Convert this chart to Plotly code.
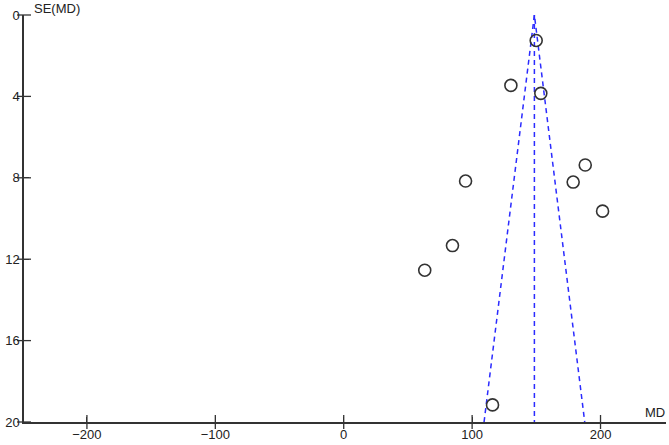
import plotly.graph_objects as go

# Study data
md_values = [149.9, 130.2, 153.5, 188.1, 94.9, 178.7, 201.6, 84.7, 63.1, 115.9]
se_values = [1.25, 3.46, 3.85, 7.37, 8.16, 8.21, 9.64, 11.33, 12.54, 19.16]
pooled_md = 148.5
se_limits = [0, 20]
x_ticks = [-200, -100, 0, 100, 200]
y_ticks = [0, 4, 8, 12, 16, 20]

font_family = "Liberation Sans, Arial, sans-serif"
text_color = "#222222"
axis_color = "#333333"
line_blue = "#2b2bff"
x_range = [-249, 251]
y_range = [20, 0]

fig = go.Figure()

# Funnel: 95% pseudo-confidence limits
fig.add_trace(go.Scatter(
    x=[pooled_md - 1.96 * se_limits[1], pooled_md, pooled_md + 1.96 * se_limits[1]],
    y=[se_limits[1], se_limits[0], se_limits[1]],
    mode="lines", line=dict(color=line_blue, width=1.5, dash="5px,4px"),
    hoverinfo="skip", showlegend=False))
# Centre line
fig.add_trace(go.Scatter(
    x=[pooled_md, pooled_md], y=se_limits,
    mode="lines", line=dict(color=line_blue, width=1.5, dash="5px,4px"),
    hoverinfo="skip", showlegend=False))
# Studies
fig.add_trace(go.Scatter(
    x=md_values, y=se_values, mode="markers",
    marker=dict(symbol="circle-open", size=12, color="#333333",
                line=dict(width=1.6, color="#333333")),
    showlegend=False))

# Crossing tick marks, placed on the axis lines at the tick values
fig.add_trace(go.Scatter(
    x=x_ticks, y=[y_range[0]] * len(x_ticks), mode="markers", cliponaxis=False,
    marker=dict(symbol="line-ns-open", size=10, color=axis_color,
                line=dict(width=1.3, color=axis_color)),
    hoverinfo="skip", showlegend=False))
fig.add_trace(go.Scatter(
    x=[x_range[0]] * len(y_ticks), y=y_ticks, mode="markers", cliponaxis=False,
    marker=dict(symbol="line-ew-open", size=10, color=axis_color,
                line=dict(width=1.3, color=axis_color)),
    hoverinfo="skip", showlegend=False))

tick_font = dict(family=font_family, size=13, color=text_color)

fig.update_layout(
    width=669, height=445,
    margin=dict(l=24, r=3, t=15, b=20),
    paper_bgcolor="white", plot_bgcolor="white",
    xaxis=dict(range=x_range, tickvals=x_ticks, ticks="inside", ticklen=5,
               tickcolor=axis_color, tickwidth=1.2, showline=True,
               linecolor=axis_color, linewidth=1.5, showgrid=False, zeroline=False,
               tickfont=tick_font),
    yaxis=dict(range=y_range, tickvals=y_ticks, ticks="inside", ticklen=5,
               tickcolor=axis_color, tickwidth=1.2, showline=True,
               linecolor=axis_color, linewidth=1.5, showgrid=False, zeroline=False,
               tickfont=tick_font),
    annotations=[
        dict(text="SE(MD)", xref="paper", yref="paper", x=0.012, y=1.0, xanchor="left",
             yanchor="middle", yshift=7, showarrow=False,
             font=dict(family=font_family, size=13, color=text_color)),
        dict(text="MD", xref="paper", yref="paper", x=1.0, y=0.0, xanchor="right",
             yanchor="bottom", yshift=0, xshift=1, showarrow=False,
             font=dict(family=font_family, size=13, color=text_color)),
    ],
)

fig.write_html("out.html", config={"displayModeBar": False},
               post_script="document.body.style.margin='0';")
